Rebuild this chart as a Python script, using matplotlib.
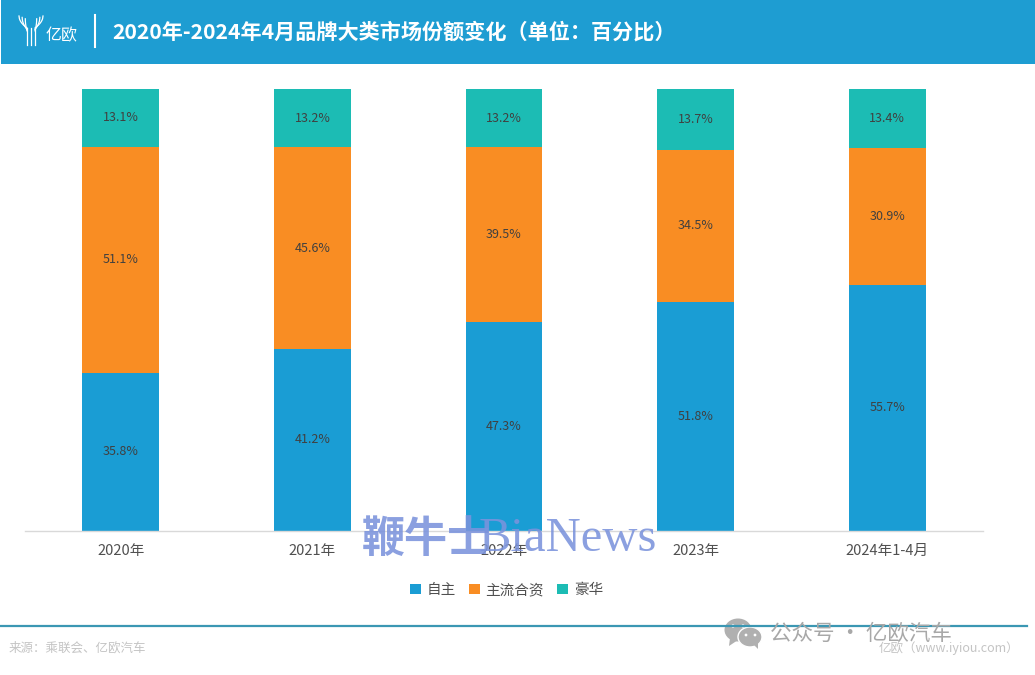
import matplotlib
matplotlib.use('Agg')
import matplotlib.pyplot as plt
from matplotlib.patches import Ellipse, Rectangle, Polygon
import numpy as np

plt.rcParams['font.family'] = ['Noto Sans CJK SC', 'DejaVu Sans']

years = ['2020年', '2021年', '2022年', '2023年', '2024年1-4月']
zizhu = [35.8, 41.2, 47.3, 51.8, 55.7]
hezi = [51.1, 45.6, 39.5, 34.5, 30.9]
haohua = [13.1, 13.2, 13.2, 13.7, 13.4]
series_names = ['自主', '主流合资', '豪华']
colors = ['#1a9dd4', '#f98d23', '#1cbcb4']

W, H = 1035, 675
fig = plt.figure(figsize=(W / 100, H / 100), dpi=100)

# pixel coordinate layer for header / footer
bg = fig.add_axes([0, 0, 1, 1])
bg.set_xlim(0, W)
bg.set_ylim(H, 0)
bg.axis('off')

bg.add_patch(Rectangle((1, 0), W, 64, color='#1e9dd2', lw=0))
bg.plot([95, 95], [15, 47], color='white', lw=1.5)
bg.text(112, 32.5, '2020年-2024年4月品牌大类市场份额变化（单位：百分比）', color='white',
        fontsize=15.2, fontweight='bold', va='center', ha='left')

# logo
t = np.linspace(0, 1, 20)
for off in [0, 3.5, 7]:
    bg.plot(19 + off * 0.9 + t * (8 - off * 0.9), 16 + off * 0.4 + t ** 0.5 * 12, color='white', lw=0.9)
    bg.plot(43 - off * 0.9 - t * (8 - off * 0.9), 16 + off * 0.4 + t ** 0.5 * 12, color='white', lw=0.9)
for px in [27, 31, 35]:
    bg.plot([px, px], [28, 45], color='white', lw=0.9)
bg.text(62, 36, '亿欧', color='white', fontsize=11.5, va='center', ha='center', fontweight='light')

# chart
ax = fig.add_axes([25 / W, (H - 531) / H, 958 / W, 442 / H])
ax.patch.set_alpha(0)
x = np.arange(len(years))
bottom = np.zeros(len(years))
for vals, name, c in zip([zizhu, hezi, haohua], series_names, colors):
    ax.bar(x, vals, 0.4, bottom=bottom, color=c, label=name)
    for xi, b, v in zip(x, bottom, vals):
        ax.text(xi, b + v / 2, f'{v:.1f}%', ha='center', va='center', fontsize=9, color='#404040')
    bottom = bottom + np.array(vals)

ax.set_xlim(-0.5, 4.5)
ax.set_ylim(0, 100)
ax.set_xticks(x)
ax.set_xticklabels(years, fontsize=10.5, color='#505050')
ax.tick_params(axis='x', length=0, pad=9)
ax.set_yticks([])
for s in ['top', 'left', 'right']:
    ax.spines[s].set_visible(False)
ax.spines['bottom'].set_color('#d9d9d9')
ax.spines['bottom'].set_linewidth(1)

# legend
ax.legend(loc='center', bbox_to_anchor=(0.5025, -0.134), ncol=3, frameon=False, fontsize=10.5,
          labelcolor='#505050', handlelength=0.75, handleheight=0.75, handletextpad=0.4, columnspacing=0.9)

# watermark
wm = dict(color='#7b93dc', alpha=0.88, va='center', zorder=10)
top = fig.add_axes([0, 0, 1, 1])
top.set_xlim(0, W)
top.set_ylim(H, 0)
top.axis('off')
top.text(362, 539, '鞭牛士', fontsize=31, fontweight='bold', ha='left', **wm)
top.text(479, 539, 'BiaNews', fontsize=35, family='Liberation Serif', ha='left', **wm)

# footer
top.plot([1, W - 8], [626, 626], color='#3b97b3', lw=1.6)
top.text(9, 648, '来源：乘联会、亿欧汽车', fontsize=9, color='#c4c4c4', va='center', ha='left')
top.text(1019, 648, '亿欧（www.iyiou.com）', fontsize=9, color='#c4c4c4', va='center', ha='right')
top.text(770, 634, '公众号 · 亿欧汽车', fontsize=15.5, color='#a8a8a8', va='center', ha='left')

# wechat icon
gray = '#b0b0b0'
top.add_patch(Ellipse((738, 630), 27, 23, color=gray, lw=0))
top.add_patch(Polygon([[730, 638], [729, 646], [738, 640]], color=gray, lw=0))
top.add_patch(Ellipse((750, 637), 24, 20, color=gray, ec='white', lw=1))
top.add_patch(Polygon([[753, 644], [758, 649], [758, 642]], color=gray, lw=0))
for ex, ey, r in [(733, 626, 1.7), (743, 626, 1.7), (746, 635, 1.4), (755, 635, 1.4)]:
    top.add_patch(Ellipse((ex, ey), r * 2, r * 2, color='white', lw=0))

fig.savefig('out.png', dpi=100, facecolor='white')
